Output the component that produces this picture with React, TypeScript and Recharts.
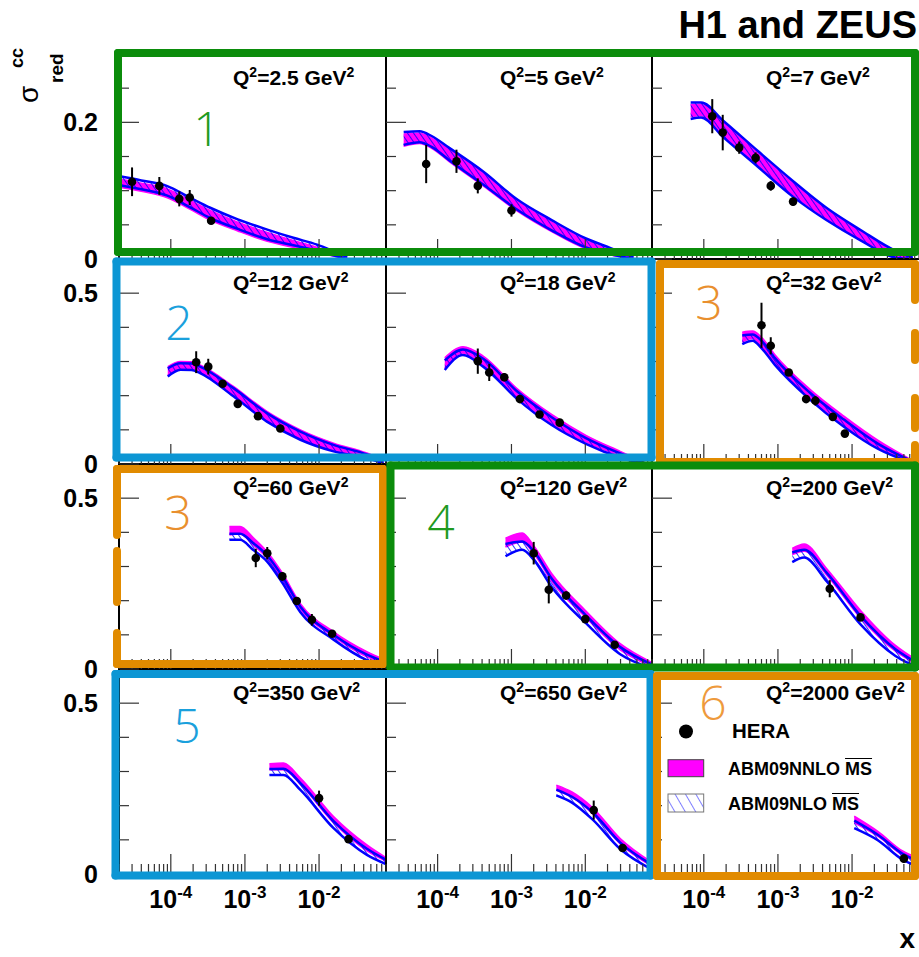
import React from 'react';
import { ComposedChart, Area, Scatter, ErrorBar, XAxis, YAxis, Legend } from 'recharts';

const FONT = '"Liberation Sans", Arial, Helvetica, sans-serif';

// Q^2 value of every panel, row by row
const q2Labels = ['2.5', '5', '7', '12', '18', '32', '60', '120', '200', '350', '650', '2000'];

// theory bands: [x, nnloLo, nnloHi, nloLo, nloHi]
const band1 = [
  [2.05e-5, 0.105, 0.117, 0.108, 0.121], [4e-5, 0.099, 0.111, 0.102, 0.115], [8.8e-5, 0.09, 0.103, 0.093, 0.107],
  [1.8e-4, 0.073, 0.086, 0.076, 0.09], [3.4e-4, 0.057, 0.071, 0.06, 0.075], [8e-4, 0.041, 0.054, 0.044, 0.058],
  [2e-3, 0.026, 0.039, 0.029, 0.043], [4.5e-3, 0.017, 0.027, 0.02, 0.031], [9.4e-3, 0.01, 0.017, 0.012, 0.021],
  [0.016, 0.004, 0.008, 0.005, 0.011], [0.024, 0, 0.002, 0, 0.003],
];
const band2 = [
  [3.47e-5, 0.165, 0.183, 0.167, 0.186], [5.7e-5, 0.169, 0.184, 0.171, 0.187], [8.3e-5, 0.162, 0.177, 0.164, 0.18],
  [1.42e-4, 0.143, 0.16, 0.145, 0.163], [4.14e-4, 0.107, 0.125, 0.109, 0.128], [1.2e-3, 0.07, 0.084, 0.072, 0.087],
  [3.5e-3, 0.04, 0.054, 0.042, 0.057], [0.0102, 0.015, 0.027, 0.017, 0.03], [0.022, 0.006, 0.013, 0.007, 0.016],
  [0.045, 0, 0.002, 0, 0.003],
];
const band3 = [
  [6.65e-5, 0.208, 0.226, 0.205, 0.229], [9.2e-5, 0.21, 0.226, 0.207, 0.229], [1.84e-4, 0.181, 0.199, 0.178, 0.202],
  [5.36e-4, 0.138, 0.155, 0.135, 0.158], [1.56e-3, 0.095, 0.112, 0.092, 0.115], [4.5e-3, 0.06, 0.072, 0.057, 0.075],
  [0.0132, 0.029, 0.04, 0.027, 0.042], [0.0385, 0.003, 0.01, 0.002, 0.012], [0.066, 0, 0.001, 0, 0.002],
];
const band4 = [
  [9.1e-5, 0.26, 0.285, 0.256, 0.28], [1.35e-4, 0.28, 0.3, 0.276, 0.295], [1.9e-4, 0.279, 0.299, 0.275, 0.294],
  [2.48e-4, 0.27, 0.29, 0.266, 0.285], [7e-4, 0.202, 0.227, 0.198, 0.222], [1.98e-3, 0.128, 0.154, 0.124, 0.149],
  [5.6e-3, 0.075, 0.1, 0.071, 0.095], [0.0157, 0.041, 0.061, 0.037, 0.056], [0.0442, 0.02, 0.032, 0.017, 0.028],
  [0.074, 0.004, 0.01, 0.002, 0.007],
];
const band5 = [
  [1.25e-4, 0.281, 0.311, 0.275, 0.303], [2.2e-4, 0.325, 0.343, 0.319, 0.335], [4.14e-4, 0.291, 0.316, 0.285, 0.308],
  [1.2e-3, 0.196, 0.22, 0.19, 0.212], [3.5e-3, 0.12, 0.145, 0.114, 0.137], [0.0102, 0.065, 0.084, 0.059, 0.076],
  [0.0297, 0.024, 0.037, 0.019, 0.031], [0.063, 0.001, 0.005, 0, 0.003],
];
const band6 = [
  [3.3e-4, 0.357, 0.386, 0.351, 0.376], [4.55e-4, 0.367, 0.389, 0.361, 0.379], [6e-4, 0.345, 0.371, 0.339, 0.361],
  [9.1e-4, 0.296, 0.32, 0.29, 0.31], [2.66e-3, 0.196, 0.22, 0.19, 0.21], [7.76e-3, 0.115, 0.14, 0.109, 0.13],
  [0.0225, 0.05, 0.069, 0.044, 0.059], [0.066, 0.004, 0.01, 0.002, 0.007],
];
const band7 = [
  [6.18e-4, 0.392, 0.417, 0.378, 0.396], [8.6e-4, 0.395, 0.417, 0.378, 0.396], [1.3e-3, 0.362, 0.384, 0.348, 0.368],
  [1.98e-3, 0.325, 0.344, 0.315, 0.333], [3.2e-3, 0.262, 0.281, 0.252, 0.271], [5.6e-3, 0.175, 0.191, 0.166, 0.182],
  [0.0157, 0.095, 0.109, 0.086, 0.1], [0.0442, 0.036, 0.051, 0.026, 0.042], [0.08, 0.016, 0.026, 0.008, 0.02],
];
const band8 = [
  [8.3e-4, 0.357, 0.383, 0.33, 0.366], [1.4e-3, 0.372, 0.398, 0.349, 0.373], [2e-3, 0.338, 0.361, 0.32, 0.345],
  [3.5e-3, 0.257, 0.28, 0.24, 0.265], [0.0102, 0.15, 0.17, 0.134, 0.157], [0.0297, 0.056, 0.074, 0.043, 0.064],
  [0.078, 0.008, 0.02, 0.002, 0.014],
];
const band9 = [
  [1.56e-3, 0.335, 0.353, 0.313, 0.341], [2.26e-3, 0.345, 0.366, 0.326, 0.349], [4.5e-3, 0.276, 0.295, 0.258, 0.283],
  [0.0132, 0.148, 0.17, 0.129, 0.154], [0.0385, 0.052, 0.069, 0.038, 0.058], [0.08, 0.01, 0.022, 0.003, 0.015],
];
const band10 = [
  [2.14e-3, 0.305, 0.323, 0.29, 0.307], [3.3e-3, 0.305, 0.325, 0.29, 0.308], [5.6e-3, 0.262, 0.281, 0.246, 0.266],
  [0.0157, 0.15, 0.168, 0.134, 0.155], [0.0442, 0.068, 0.085, 0.056, 0.074], [0.08, 0.038, 0.048, 0.029, 0.042],
];
const band11 = [
  [4.05e-3, 0.245, 0.26, 0.23, 0.247], [6.6e-3, 0.224, 0.24, 0.209, 0.226], [0.0126, 0.176, 0.194, 0.159, 0.18],
  [0.0297, 0.088, 0.104, 0.073, 0.092], [0.08, 0.022, 0.034, 0.013, 0.027],
];
const band12 = [
  [0.0107, 0.15, 0.169, 0.134, 0.156], [0.0225, 0.11, 0.124, 0.098, 0.114], [0.0475, 0.056, 0.068, 0.043, 0.06],
  [0.08, 0.034, 0.046, 0.021, 0.038],
];

// HERA data: [x, sigma, error]
const hera1 = [[3e-5, 0.113, 0.021], [7e-5, 0.107, 0.013], [1.3e-4, 0.088, 0.011], [1.8e-4, 0.09, 0.011], [3.5e-4, 0.056, 0.005]];
const hera2 = [[7e-5, 0.139, 0.028], [1.8e-4, 0.143, 0.017], [3.5e-4, 0.107, 0.011], [1e-3, 0.071, 0.009]];
const hera3 = [[1.3e-4, 0.209, 0.025], [1.8e-4, 0.185, 0.026], [3e-4, 0.163, 0.009], [5e-4, 0.148, 0.008], [8e-4, 0.107, 0.007], [1.6e-3, 0.084, 0.006]];
const hera4 = [[2.2e-4, 0.298, 0.032], [3.2e-4, 0.285, 0.023], [5e-4, 0.235, 0.01], [8e-4, 0.176, 0.008], [1.5e-3, 0.14, 0.007], [3e-3, 0.104, 0.007]];
const hera5 = [[3.5e-4, 0.301, 0.037], [5e-4, 0.268, 0.025], [8e-4, 0.254, 0.012], [1.3e-3, 0.19, 0.008], [2.4e-3, 0.145, 0.008], [4.5e-3, 0.121, 0.008]];
const hera6 = [[6e-4, 0.406, 0.066], [8e-4, 0.346, 0.025], [1.4e-3, 0.268, 0.01], [2.4e-3, 0.19, 0.01], [3.2e-3, 0.185, 0.014], [5.5e-3, 0.138, 0.008], [8e-3, 0.089, 0.008]];
const hera7 = [[1.4e-3, 0.325, 0.027], [2e-3, 0.339, 0.018], [3.2e-3, 0.271, 0.012], [5e-3, 0.199, 0.01], [8e-3, 0.144, 0.017], [0.015, 0.103, 0.008]];
const hera8 = [[2e-3, 0.339, 0.033], [3.2e-3, 0.232, 0.04], [5.5e-3, 0.215, 0.012], [0.01, 0.146, 0.01], [0.025, 0.071, 0.007]];
const hera9 = [[5e-3, 0.235, 0.025], [0.013, 0.151, 0.008]];
const hera10 = [[0.01, 0.222, 0.022], [0.025, 0.102, 0.008]];
const hera11 = [[0.013, 0.187, 0.028], [0.032, 0.076, 0.01]];
const hera12 = [[0.05, 0.045, 0.012]];

const bands = [band1, band2, band3, band4, band5, band6, band7, band8, band9, band10, band11, band12];
const heras = [hera1, hera2, hera3, hera4, hera5, hera6, hera7, hera8, hera9, hera10, hera11, hera12];

// axes
const xDomain = [2e-5, 0.08];
const xMajorTicks = [1e-4, 1e-3, 1e-2];
const xMajorLabels = ['-4', '-3', '-2'];
const xMinorTicks = [
  2e-5, 3e-5, 4e-5, 5e-5, 6e-5, 7e-5, 8e-5, 9e-5,
  2e-4, 3e-4, 4e-4, 5e-4, 6e-4, 7e-4, 8e-4, 9e-4,
  2e-3, 3e-3, 4e-3, 5e-3, 6e-3, 7e-3, 8e-3, 9e-3,
  2e-2, 3e-2, 4e-2, 5e-2, 6e-2, 7e-2, 8e-2,
];
const yMaxByRow = [0.3, 0.6, 0.6, 0.6];
const yMajorByRow = [[0, 0.2], [0, 0.5], [0, 0.5], [0, 0.5]];
const yMajorLabelsByRow = [['0', '0.2'], ['0', '0.5'], ['0', '0.5'], ['0', '0.5']];
const yMinorByRow = [[0.05, 0.1, 0.15, 0.25], [0.1, 0.2, 0.3, 0.4], [0.1, 0.2, 0.3, 0.4], [0.1, 0.2, 0.3, 0.4]];

const legendNames = ['HERA', 'ABM09NNLO', 'ABM09NLO'];

// layout (px)
const colLefts = [119, 386, 652];
const colWidths = [267, 266, 267];
const rowTops = [54, 259, 464, 669];
const rowHeight = 205;
const AXIS_W = 120;
const AXIS_H = 50;

const MAGENTA = '#ff00ff';
const BLUE = '#0000ff';
const GREEN = '#0b8c0b';
const CYAN = '#0c96d4';
const ORANGE = '#e18b00';

const renderXTick = (props: any, showLabel: boolean) => {
  const { x, y, payload } = props;
  const i = xMajorTicks.indexOf(payload.value);
  const major = i >= 0;
  return (
    <g>
      <line x1={x} x2={x} y1={y} y2={y - (major ? 20 : 10)} stroke="#333" strokeWidth={1.2} />
      {major && showLabel && (
        <text x={x} y={y + 34} textAnchor="middle" fontFamily={FONT} fontWeight="bold" fill="#000">
          <tspan fontSize={25}>10</tspan>
          <tspan fontSize={17} dy={-10}>{xMajorLabels[i]}</tspan>
        </text>
      )}
    </g>
  );
};

const renderYTick = (props: any, row: number, showLabel: boolean) => {
  const { x, y, payload } = props;
  const i = yMajorByRow[row].indexOf(payload.value);
  const major = i >= 0;
  return (
    <g>
      <line x1={x} x2={x + (major ? 20 : 10)} y1={y} y2={y} stroke="#333" strokeWidth={1.2} />
      {major && showLabel && (
        <text x={x - 21} y={y + 9} textAnchor="end" fontFamily={FONT} fontWeight="bold" fontSize={25} fill="#000">
          {yMajorLabelsByRow[row][i]}
        </text>
      )}
    </g>
  );
};

const LegendBox = () => {
  const textStyle = (size: number, baseline: number): React.CSSProperties => ({
    position: 'absolute',
    left: 68,
    top: baseline - 0.8465 * size,
    fontSize: size,
    lineHeight: 1,
    whiteSpace: 'nowrap',
  });
  return (
    <div style={{ position: 'relative', width: 250, height: 110, fontFamily: FONT, fontWeight: 'bold', color: '#000' }}>
      <svg width={60} height={110} style={{ position: 'absolute', left: 0, top: 0 }}>
        <defs>
          <pattern id="legendHatch" patternUnits="userSpaceOnUse" width={9} height={9} patternTransform="rotate(-30)">
            <line x1={0} y1={0} x2={0} y2={9} stroke={BLUE} strokeWidth={1} />
          </pattern>
        </defs>
        <circle cx={26} cy={16.5} r={7} fill="#000" />
        <rect x={8} y={44.7} width={35.7} height={17} fill={MAGENTA} stroke="#444" strokeWidth={1} />
        <rect x={8} y={79} width={35.7} height={18} fill="url(#legendHatch)" stroke="#777" strokeWidth={1} />
      </svg>
      <span style={{ ...textStyle(20.5, 23), left: 72 }}>{legendNames[0]}</span>
      <span style={textStyle(18, 60)}>
        {legendNames[1]} <span style={{ textDecoration: 'overline' }}>MS</span>
      </span>
      <span style={textStyle(18, 95)}>
        {legendNames[2]} <span style={{ textDecoration: 'overline' }}>MS</span>
      </span>
    </div>
  );
};

const Panel = ({ idx }: { idx: number }) => {
  const row = Math.floor(idx / 3);
  const col = idx % 3;
  const w = colWidths[col];
  const data = bands[idx].map(([x, a, b, c, d]) => ({ x, nnlo: [a, b], nlo: [c, d] }));
  const points = heras[idx].map(([x, y, e]) => ({ x, y, e }));
  const hatchId = `hatch${idx}`;
  return (
    <div style={{ position: 'absolute', left: colLefts[col] - AXIS_W, top: rowTops[row] }}>
      <ComposedChart width={w + AXIS_W} height={rowHeight + AXIS_H} data={data} margin={{ top: 0, right: 0, bottom: 0, left: 0 }}>
        <defs>
          <pattern id={hatchId} patternUnits="userSpaceOnUse" width={5} height={5} patternTransform="rotate(-35)">
            <line x1={0} y1={0} x2={0} y2={5} stroke={BLUE} strokeWidth={1.6} />
          </pattern>
        </defs>
        <XAxis
          dataKey="x"
          type="number"
          scale="log"
          domain={xDomain}
          allowDataOverflow
          ticks={[...xMinorTicks, ...xMajorTicks]}
          interval={0}
          tickLine={false}
          tickSize={0}
          tickMargin={0}
          height={AXIS_H}
          axisLine={{ stroke: '#000', strokeWidth: 2 }}
          tick={(p: any) => renderXTick(p, row === 3)}
        />
        <YAxis
          type="number"
          domain={[0, yMaxByRow[row]]}
          allowDataOverflow
          ticks={[...yMinorByRow[row], ...yMajorByRow[row]]}
          interval={0}
          tickLine={false}
          tickSize={0}
          tickMargin={0}
          width={AXIS_W}
          axisLine={{ stroke: '#000', strokeWidth: 2 }}
          tick={(p: any) => renderYTick(p, row, col === 0)}
        />
        <Area
          dataKey="nnlo"
          type="monotone"
          fill={MAGENTA}
          fillOpacity={1}
          stroke={MAGENTA}
          strokeWidth={1.5}
          isAnimationActive={false}
        />
        <Area
          dataKey="nlo"
          type="monotone"
          fill={`url(#${hatchId})`}
          fillOpacity={1}
          stroke={BLUE}
          strokeWidth={2.5}
          isAnimationActive={false}
        />
        <Scatter
          data={points}
          dataKey="y"
          isAnimationActive={false}
          shape={(p: any) => <circle cx={p.cx} cy={p.cy} r={4.3} fill="#000" />}
        >
          <ErrorBar dataKey="e" direction="y" width={0} stroke="#000" strokeWidth={2} isAnimationActive={false} />
        </Scatter>
        {idx === 11 && (
          <Legend
            layout="horizontal"
            verticalAlign="middle"
            align="center"
            wrapperStyle={{ left: 128, top: 46, width: 250, height: 110 }}
            content={() => <LegendBox />}
          />
        )}
      </ComposedChart>
    </div>
  );
};

// hand-drawn grouping boxes and their numbers
const boxes = [
  { color: GREEN, x: 118, y: 53, w: 797, h: 199, sw: 8 },
  { color: CYAN, x: 116.5, y: 261.5, w: 535, h: 196, sw: 8 },
  { color: ORANGE, x: 660, y: 264, w: 255, h: 198, sw: 8, rightGaps: [[264, 300], [333, 360], [398, 428], [445, 462]] },
  { color: ORANGE, x: 117, y: 469, w: 266, h: 195, sw: 8, leftGaps: [[469, 535], [551, 602], [633, 664]] },
  { color: GREEN, x: 390.5, y: 465.5, w: 524.5, h: 202, sw: 8 },
  { color: CYAN, x: 115.5, y: 674, w: 535, h: 201.5, sw: 8 },
  { color: ORANGE, x: 657, y: 676, w: 258, h: 200, sw: 8 },
];
const groupNumbers = [
  { t: '1', x: 207, y: 146, color: '#1f9a1f' },
  { t: '2', x: 179, y: 340, color: '#1aa0dc' },
  { t: '3', x: 709, y: 320, color: '#e98f2e' },
  { t: '3', x: 178, y: 530, color: '#e98f2e' },
  { t: '4', x: 441, y: 539, color: '#1f9a1f' },
  { t: '5', x: 187, y: 743, color: '#1aa0dc' },
  { t: '6', x: 713, y: 720, color: '#ee9a3c' },
];

const Box = ({ b }: { b: any }) => {
  const { color, x, y, w, h, sw } = b;
  const common = { stroke: color, strokeWidth: sw, strokeLinecap: 'round' as const };
  const left = b.leftGaps
    ? b.leftGaps.map(([a, c]: number[], i: number) => <line key={`l${i}`} x1={x} x2={x} y1={a} y2={c} {...common} />)
    : [<line key="l" x1={x} x2={x} y1={y} y2={y + h} {...common} />];
  const right = b.rightGaps
    ? b.rightGaps.map(([a, c]: number[], i: number) => <line key={`r${i}`} x1={x + w} x2={x + w} y1={a} y2={c} {...common} />)
    : [<line key="r" x1={x + w} x2={x + w} y1={y} y2={y + h} {...common} />];
  return (
    <g>
      <line x1={x} x2={x + w} y1={y} y2={y} {...common} />
      <line x1={x} x2={x + w} y1={y + h} y2={y + h} {...common} />
      {left}
      {right}
    </g>
  );
};

const Overlay = () => (
  <svg width={919} height={957} style={{ position: 'absolute', left: 0, top: 0, pointerEvents: 'none' }}>
    <text x={917} y={38} textAnchor="end" fontFamily={FONT} fontWeight="bold" fontSize={38} fill="#000">
      H1 and ZEUS
    </text>
    <g transform="translate(38, 103) rotate(-90)" fontFamily={FONT} fill="#000">
      <text x={0} y={0} fontSize={28}>σ</text>
      <text x={35} y={-15} fontSize={18} fontWeight="bold">cc</text>
      <text x={20} y={25} fontSize={19} fontWeight="bold">red</text>
    </g>
    <text x={915} y={948} textAnchor="end" fontFamily={FONT} fontWeight="bold" fontSize={28} fill="#000">
      x
    </text>
    {q2Labels.map((q, i) => {
      const row = Math.floor(i / 3);
      const col = i % 3;
      return (
        <text key={q} x={colLefts[col] + 114} y={rowTops[row] + 31} fontFamily={FONT} fontWeight="bold" fontSize={21} fill="#000">
          Q<tspan fontSize={14} dy={-8}>2</tspan>
          <tspan dy={8}>={q} GeV</tspan>
          <tspan fontSize={14} dy={-8}>2</tspan>
        </text>
      );
    })}
    {boxes.map((b, i) => (
      <Box key={i} b={b} />
    ))}
    {groupNumbers.map((n, i) => (
      <text key={i} x={n.x} y={n.y} textAnchor="middle" fontFamily='"Open Sans", "DejaVu Sans", sans-serif' fontWeight={300} fontSize={48} fill={n.color}>
        {n.t}
      </text>
    ))}
  </svg>
);

export default function App() {
  return (
    <div style={{ position: 'absolute', left: 0, top: 0, width: 919, height: 957, background: '#fff', overflow: 'hidden' }}>
      {q2Labels.map((q, i) => (
        <Panel key={q} idx={i} />
      ))}
      <Overlay />
    </div>
  );
}
